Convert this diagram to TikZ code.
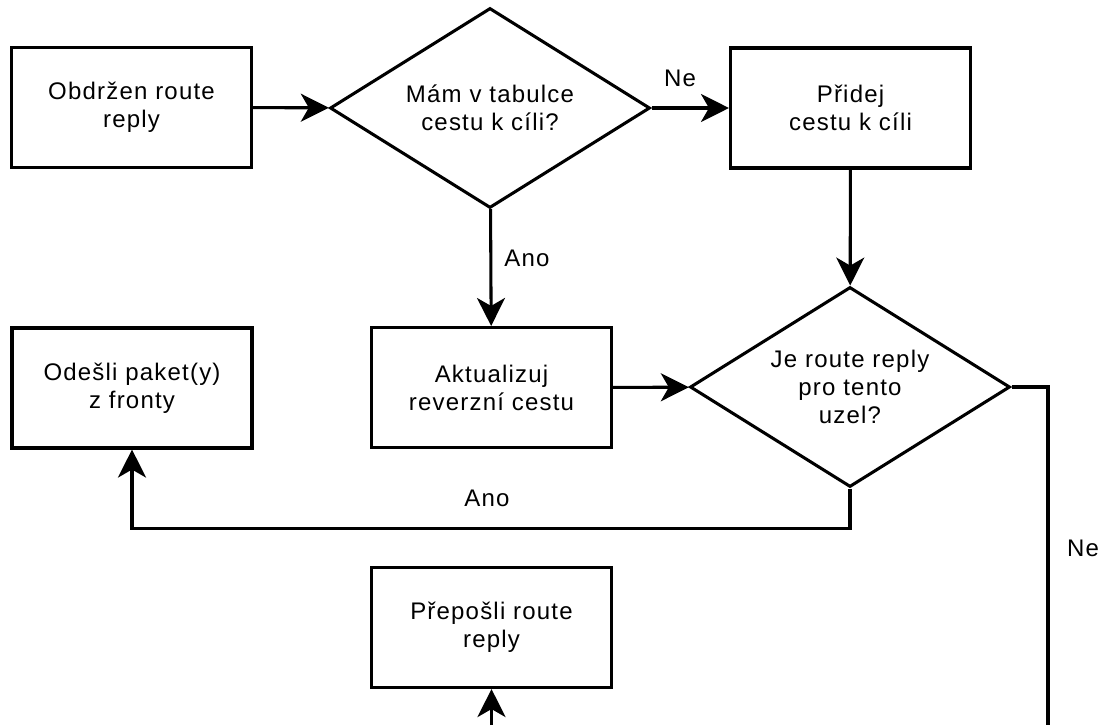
\documentclass[tikz,border=0pt]{standalone}
\usepackage{fontspec}
\setmainfont{Liberation Sans}[LetterSpace=5]
\usetikzlibrary{shapes.geometric,arrows.meta}
\begin{document}
\begin{tikzpicture}[x=0.75pt,y=-0.75pt,
  every node/.style={font=\fontsize{18pt}{21pt}\selectfont, text=black},
  procbox/.style={draw=black, line width=2.3pt, minimum width=180pt, minimum height=90pt,
    inner sep=0pt, align=center},
  decision/.style={draw=black, line width=2.3pt, diamond, shape aspect=1.6, inner sep=0pt,
    minimum width=240pt, minimum height=150pt, align=center},
  flow/.style={line width=2.3pt, -{Stealth[length=21pt,width=21pt,inset=6pt]}},
  plainline/.style={line width=2.3pt},
  lbl/.style={inner sep=0pt}
]
\useasboundingbox (0,0) rectangle (1105,725);

% process steps
\node[procbox] (recv) at (131.5,107.5) {Obdržen route\\reply};
\node[procbox] (add)  at (850.5,108) {Přidej\\cestu k cíli};
\node[procbox] (send) at (132,388) {Odešli paket(y)\\z fronty};
\node[procbox] (upd)  at (491.5,387.5) {Aktualizuj\\reverzní cestu};
\node[procbox] (fwd)  at (491.5,627.5) {Přepošli route\\reply};

% decisions
\node[decision] (have) at (490,108) {Mám v tabulce\\cestu k cíli?};
\node[decision] (mine) at (850,387) {Je route reply\\pro tento\\uzel?};

% loose ends leaving the drawn area
\coordinate (neDown) at (1048,725);
\coordinate (fwdIn) at (491.5,725);

% connectors
\draw[flow] (recv) -- (have);
\draw[flow] (have) -- (add);
\draw[flow] (have) -- (upd);
\draw[flow] (add) -- (mine);
\draw[flow] (upd) -- (mine);
\draw[flow] (mine.south) -- ++(0,40) -| (send.south);
\draw[plainline] (mine.east) -| (neDown);
\draw[flow] (fwdIn) -- (fwd.south);

% branch labels
\node[lbl] (lNe1)  at (680,78)  {Ne};
\node[lbl] (lAno1) at (527,258) {Ano};
\node[lbl] (lAno2) at (487,498) {Ano};
\node[lbl] (lNe2)  at (1083,548) {Ne};
\end{tikzpicture}
\end{document}
